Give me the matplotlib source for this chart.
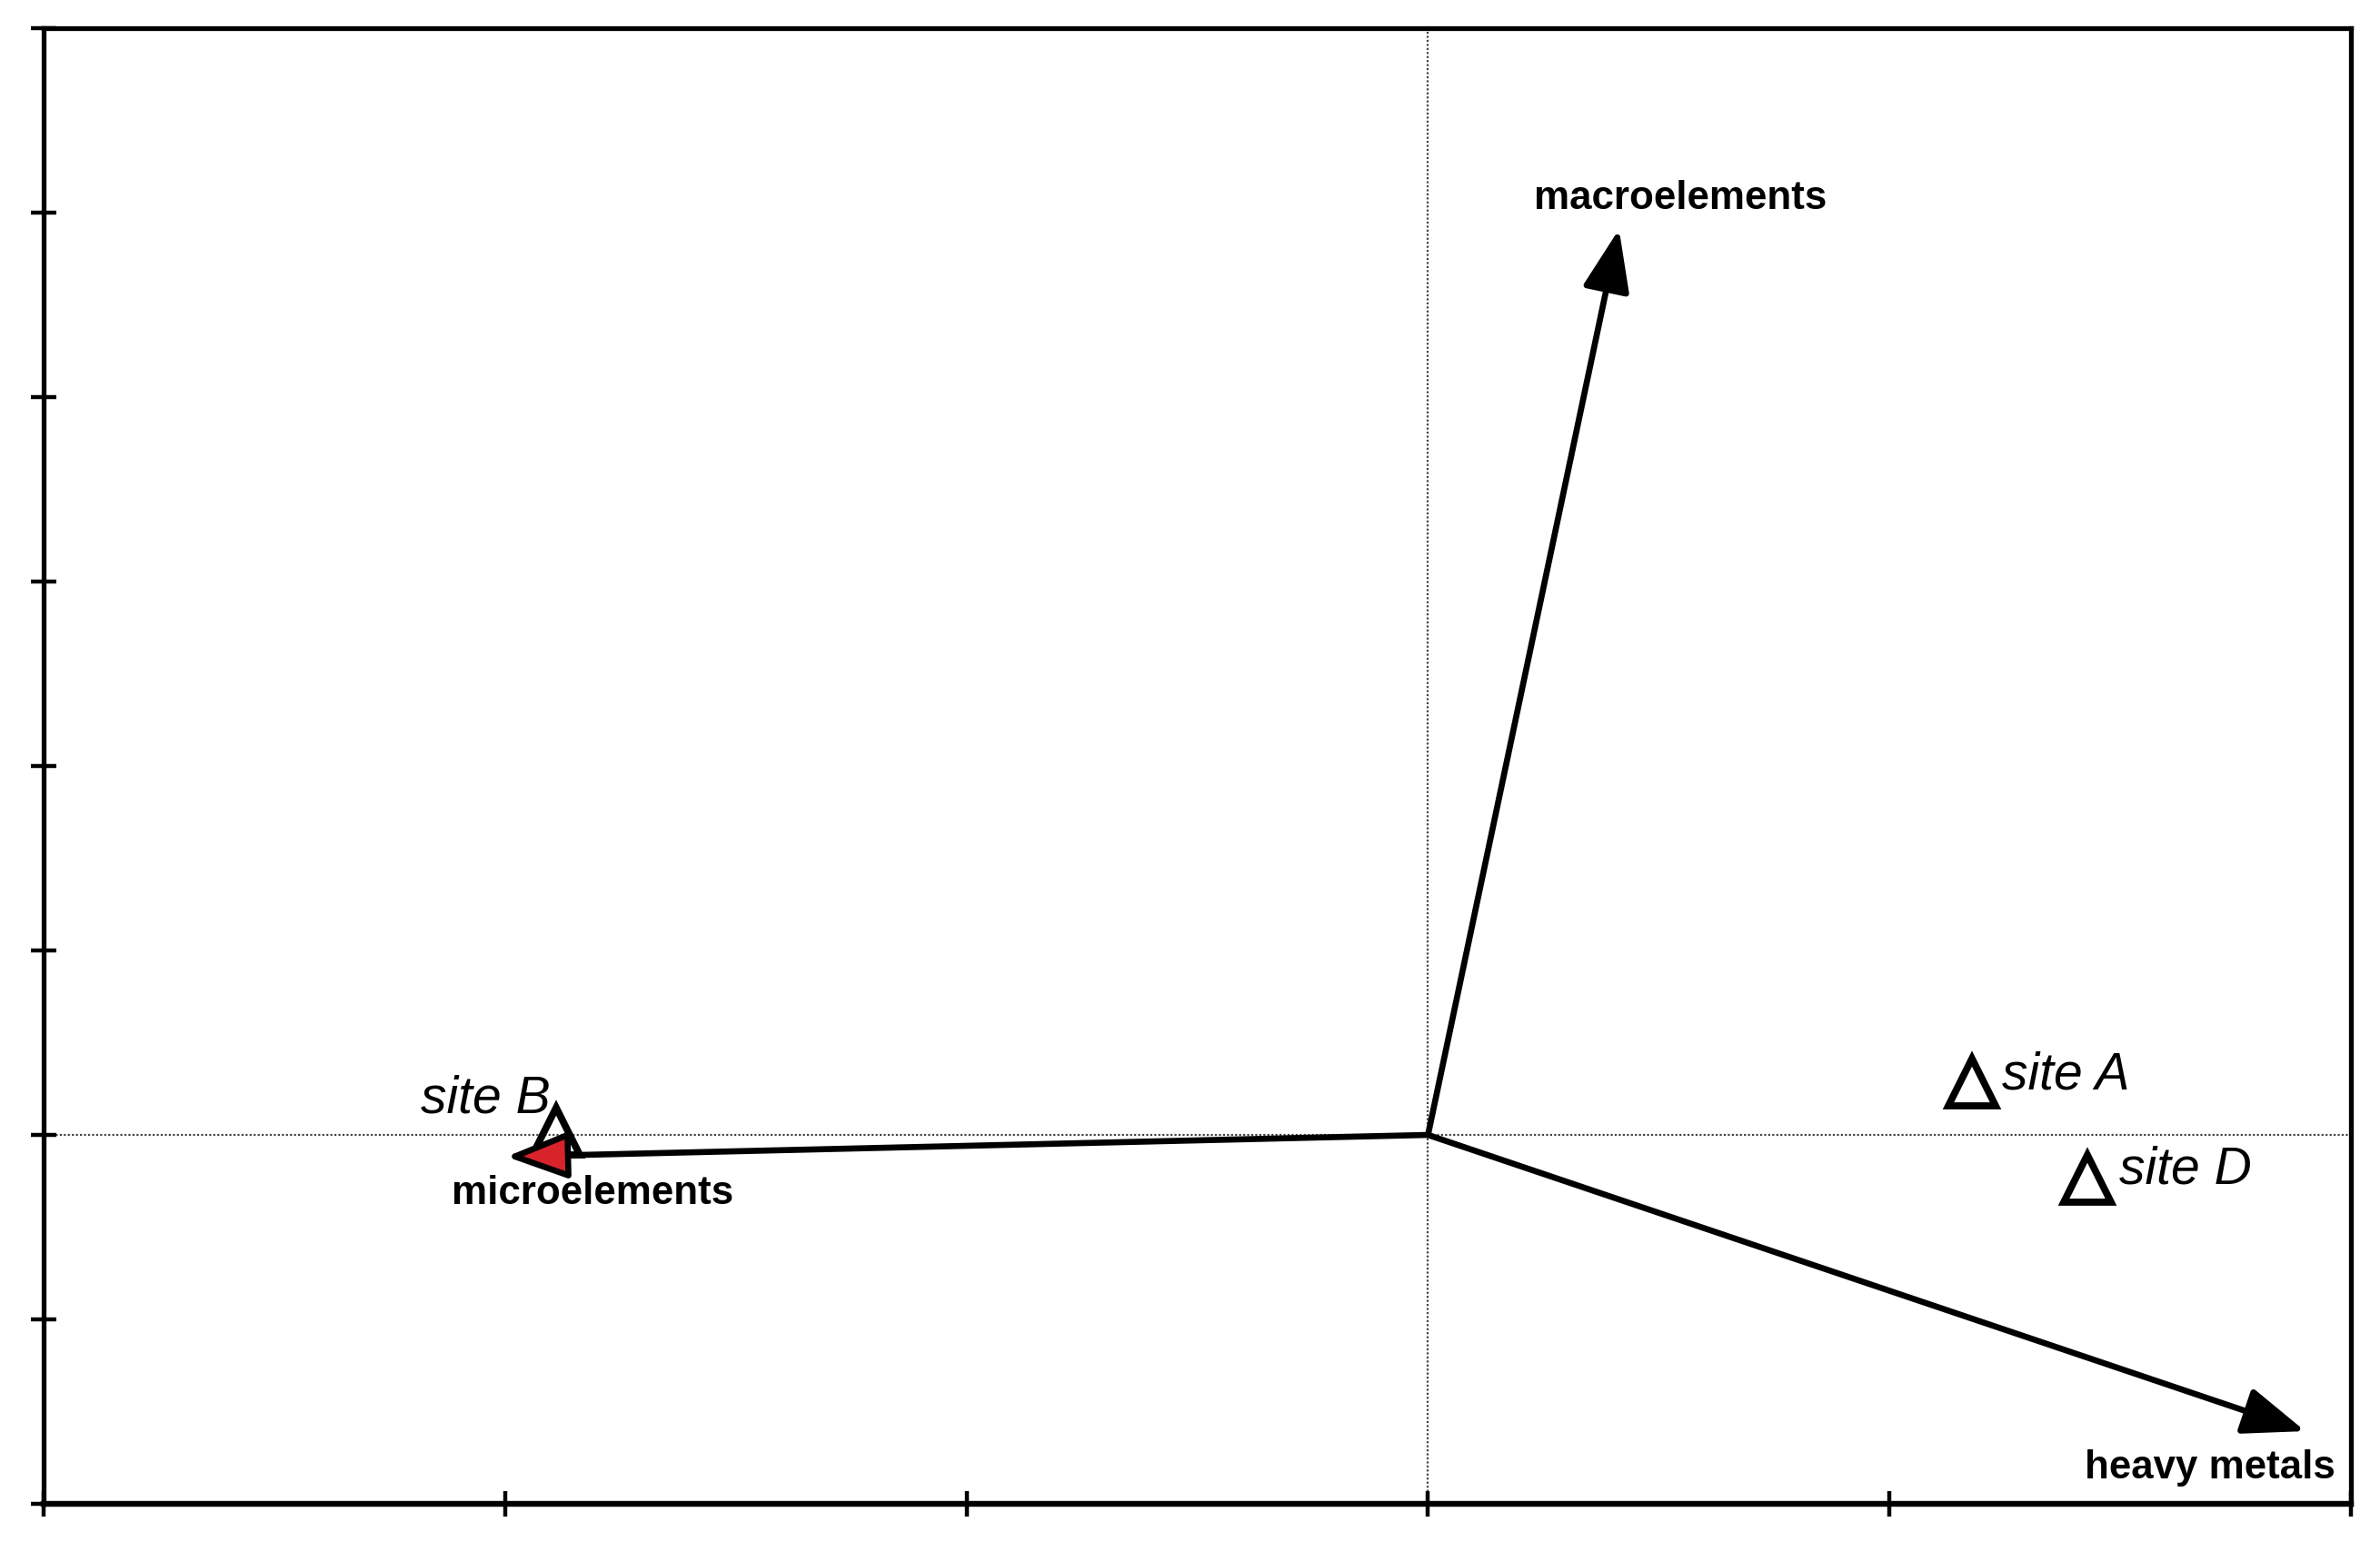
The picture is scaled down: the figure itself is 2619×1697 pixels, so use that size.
import matplotlib.pyplot as plt

plt.rcParams['font.family'] = ['Liberation Sans', 'DejaVu Sans']

# biplot vectors (arrow tips, origin at 0,0)
vec_names = ['macroelements', 'heavy metals', 'microelements']
vec_x = [0.414, 1.901, -1.997]
vec_y = [4.91, -1.606, -0.118]
vec_head = ['black', 'black', '#d9232b']

# sampling sites
site_names = ['site A', 'site B', 'site D']
site_x = [1.179, -1.889, 1.429]
site_y = [0.286, 0.02, -0.236]

x_ticks = [-3, -2, -1, 0, 1, 2]
y_ticks = [-2, -1, 0, 1, 2, 3, 4, 5, 6]

# label offsets from the point (data units)
vec_lab = {'macroelements': (0.133, 0.11, 'center'),
           'heavy metals': (-0.206, -0.254, 'center'),
           'microelements': (0.187, -0.256, 'center')}
site_lab = {'site A': (0.064, -0.035), 'site B': (-0.294, 0.103), 'site D': (0.069, -0.03)}

fig = plt.figure(figsize=(13.095, 8.485), dpi=200)
ax = fig.add_axes([0.01833, 0.02475, 0.96945, 0.95698])
ax.set_xlim(x_ticks[0], x_ticks[-1])
ax.set_ylim(y_ticks[0], y_ticks[-1])
ax.set_xticks(x_ticks)
ax.set_yticks(y_ticks)
ax.set_xticklabels([])
ax.set_yticklabels([])
ax.tick_params(direction='inout', length=10, width=1.6, color='black')
for s in ax.spines.values():
    s.set_linewidth(1.9)
ax.spines['bottom'].set_linewidth(2.3)

# dotted zero lines
ax.axhline(0, color='#444444', lw=0.8, ls=(0, (1, 1)), zorder=1)
ax.axvline(0, color='#444444', lw=0.8, ls=(0, (1, 1)), zorder=1)

# sites
ax.plot(site_x, site_y, ls='none', marker='^', ms=19, mfc='none', mec='black', mew=2.8, zorder=2)
for name, x, y in zip(site_names, site_x, site_y):
    dx, dy = site_lab[name]
    ax.text(x + dx, y + dy, name, fontsize=20.5, style='italic', ha='left', va='baseline', zorder=4)

# vectors
for name, x, y, hc in zip(vec_names, vec_x, vec_y, vec_head):
    ax.annotate('', xy=(x, y), xytext=(0, 0),
                arrowprops=dict(arrowstyle='-|>,head_length=21,head_width=8', mutation_scale=1,
                                fc=hc, ec='black', lw=2.4, shrinkA=0, shrinkB=0), zorder=3)
    dx, dy, ha = vec_lab[name]
    ax.text(x + dx, y + dy, name, fontsize=15.8, fontweight='bold', ha=ha, va='baseline', zorder=4)

plt.savefig('out.png', dpi=200)
